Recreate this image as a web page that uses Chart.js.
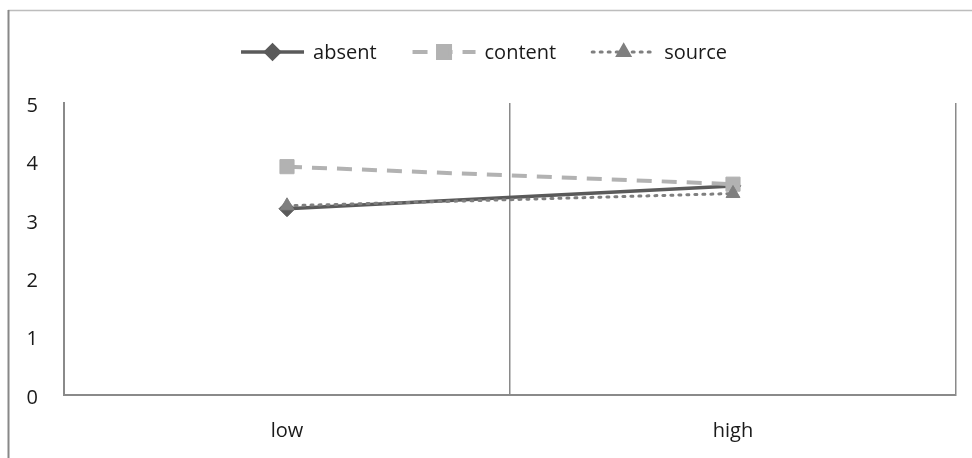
<!DOCTYPE html>
<html>
<head>
<meta charset="utf-8">
<script src="https://cdn.jsdelivr.net/npm/chart.js@4.4.1/dist/chart.umd.min.js"></script>
<style>
  html, body { margin: 0; padding: 0; background: #ffffff; }
  #wrap { width: 972px; height: 458px; position: relative; }
</style>
</head>
<body>
<div id="wrap"><canvas id="chart"></canvas></div>
<script>
// Categories and mean scores per condition
const categories = ['low', 'high'];
const absentValues = [3.19, 3.58];
const contentValues = [3.91, 3.61];
const sourceValues = [3.24, 3.45];
const yTicks = [0, 1, 2, 3, 4, 5];

const FONT = '"Open Sans", "Liberation Sans", sans-serif';
const FONT_SIZE = 20;

const series = [
  { label: 'absent',  data: absentValues,  color: '#5a5a5a', width: 3.5, dash: [],      point: 'rectRot',  radius: 8,  order: 3 },
  { label: 'content', data: contentValues, color: '#b2b2b2', width: 4,   dash: [15, 10], point: 'rect',     radius: 10, order: 2 },
  { label: 'source',  data: sourceValues,  color: '#7f7f7f', width: 3,   dash: [2, 6],   point: 'triangle', radius: 8,  order: 1 }
];

// Outer frame lines (left edge and top edge of the figure box)
const framePlugin = {
  id: 'frame',
  beforeDraw(chart) {
    const ctx = chart.ctx;
    ctx.save();
    ctx.strokeStyle = '#bdbdbd';
    ctx.lineWidth = 1.5;
    ctx.beginPath();
    ctx.moveTo(8, 10.5);
    ctx.lineTo(chart.width, 10.5);
    ctx.stroke();
    ctx.strokeStyle = '#888888';
    ctx.lineWidth = 2;
    ctx.beginPath();
    ctx.moveTo(8.5, 10);
    ctx.lineTo(8.5, chart.height);
    ctx.stroke();
    ctx.restore();
  }
};

// Legend with a line sample and marker for each series
const lineLegendPlugin = {
  id: 'lineLegend',
  afterDraw(chart) {
    const ctx = chart.ctx;
    ctx.save();
    ctx.font = FONT_SIZE + 'px ' + FONT;
    ctx.textBaseline = 'middle';
    const sampleW = 63, textGap = 9, itemGap = 36;
    const y = 52;
    const items = chart.data.datasets.map(ds => ({ ds, tw: ctx.measureText(ds.label).width }));
    let total = 0;
    items.forEach((it, i) => { total += sampleW + textGap + it.tw + (i < items.length - 1 ? itemGap : 0); });
    let x = 484 - total / 2;
    items.forEach(it => {
      const ds = it.ds;
      ctx.strokeStyle = ds.borderColor;
      ctx.lineWidth = ds.borderWidth;
      ctx.setLineDash(ds.borderDash || []);
      ctx.lineCap = ds.borderCapStyle || 'butt';
      ctx.beginPath();
      ctx.moveTo(x, y);
      ctx.lineTo(x + sampleW, y);
      ctx.stroke();
      ctx.setLineDash([]);
      ctx.fillStyle = ds.pointBackgroundColor;
      ctx.strokeStyle = ds.pointBorderColor;
      Chart.helpers.drawPoint(ctx, { pointStyle: ds.pointStyle, radius: ds.pointRadius * 0.85, borderWidth: 1, rotation: 0 }, x + sampleW / 2, y);
      ctx.fillStyle = '#1a1a1a';
      ctx.textAlign = 'left';
      ctx.fillText(ds.label, x + sampleW + textGap, y + 1);
      x += sampleW + textGap + it.tw + itemGap;
    });
    ctx.restore();
  }
};

new Chart(document.getElementById('chart'), {
  type: 'line',
  data: {
    labels: categories,
    datasets: series.map(s => ({
      label: s.label,
      data: s.data,
      borderColor: s.color,
      borderWidth: s.width,
      borderDash: s.dash,
      borderCapStyle: s.label === 'source' ? 'round' : 'butt',
      pointStyle: s.point,
      pointRadius: s.radius,
      pointHoverRadius: s.radius,
      pointBackgroundColor: s.color,
      pointBorderColor: s.color,
      pointBorderWidth: 1,
      tension: 0,
      fill: false,
      order: s.order
    }))
  },
  options: {
    responsive: true,
    maintainAspectRatio: false,
    animation: false,
    layout: { padding: { top: 103, right: 16, left: 0, bottom: 0 } },
    plugins: {
      legend: { display: false },
      tooltip: { enabled: false }
    },
    scales: {
      x: {
        type: 'category',
        offset: true,
        grid: { display: true, offset: true, color: '#8a8a8a', lineWidth: 1.5, drawTicks: false },
        border: { display: true, color: '#8a8a8a', width: 2 },
        ticks: { color: '#1a1a1a', font: { family: FONT, size: FONT_SIZE }, padding: 24, maxRotation: 0 },
        afterFit(scale) { scale.height = 63; }
      },
      y: {
        min: 0,
        max: 5,
        afterBuildTicks(scale) { scale.ticks = yTicks.map(v => ({ value: v })); },
        grid: { display: false, drawTicks: false },
        border: { display: true, color: '#8a8a8a', width: 2 },
        ticks: { color: '#1a1a1a', font: { family: FONT, size: FONT_SIZE }, padding: 26, labelOffset: 3 },
        afterFit(scale) { scale.width = 64; }
      }
    }
  },
  plugins: [framePlugin, lineLegendPlugin]
});
</script>
</body>
</html>
